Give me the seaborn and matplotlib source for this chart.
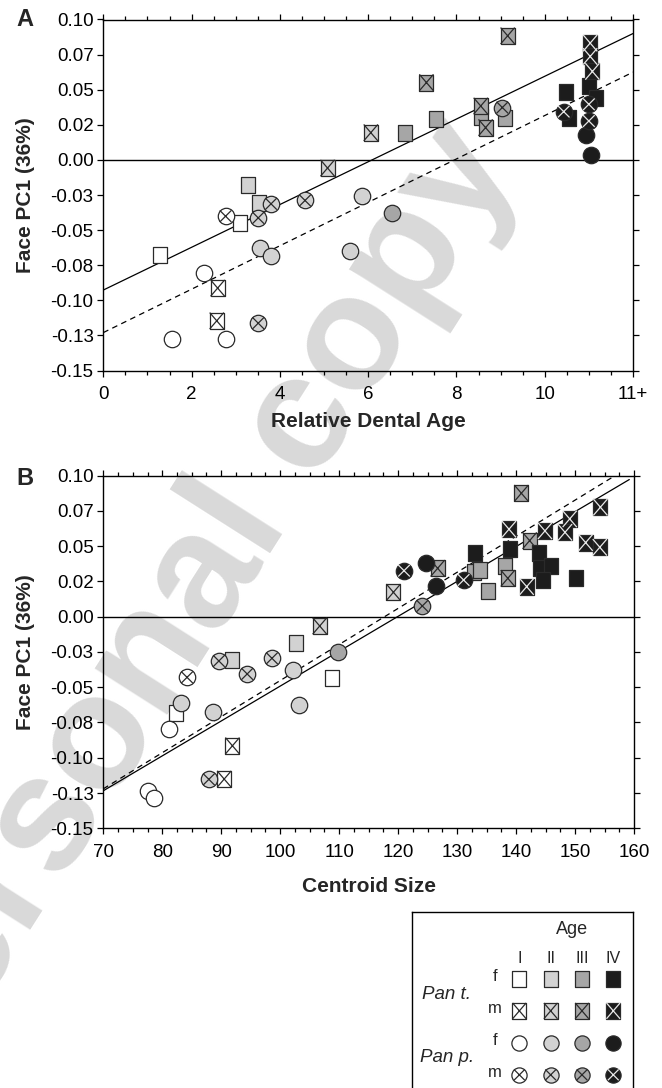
import matplotlib
matplotlib.use("Agg")
import matplotlib.pyplot as plt
from matplotlib.path import Path
from matplotlib.ticker import MultipleLocator
import pandas as pd
import seaborn as sns

# ---------------- data ----------------
# Panel A: Relative Dental Age vs Face PC1
a_species = ["Pan t."] * 23 + ["Pan p."] * 19
a_sex = ["f", "f", "m", "m", "f", "f", "m", "m", "f", "f", "f", "f", "m", "m", "m", "m",
         "f", "f", "f", "f", "m", "m", "m",
         "f", "f", "f", "m", "f", "f", "f", "f", "m", "m", "m", "m", "f", "m", "f", "f",
         "m", "m", "m"]
a_age = ["I", "I", "I", "I", "II", "II", "II", "II", "III", "III", "III", "III", "III", "III",
         "III", "III", "IV", "IV", "IV", "IV", "IV", "IV", "IV",
         "I", "I", "I", "I", "II", "II", "II", "II", "II", "II", "II", "II", "III", "III",
         "IV", "IV", "IV", "IV", "IV"]
a_dental_age = [1.28, 3.10, 2.59, 2.57, 3.27, 3.53, 5.08, 6.06, 6.83, 7.54, 8.55, 9.11,
                7.32, 8.55, 8.66, 9.16, 10.49, 10.56, 11.00, 11.17, 11.03, 11.03, 11.08,
                2.27, 1.55, 2.79, 2.77, 3.56, 3.81, 5.87, 5.59, 3.80, 4.57, 3.51, 3.51,
                6.53, 9.04, 10.93, 11.04, 10.43, 11.00, 11.00]
a_pc1 = [-0.0677, -0.0449, -0.0913, -0.1146, -0.0182, -0.0309, -0.0058, 0.0194, 0.0194,
         0.0289, 0.0306, 0.0299, 0.0551, 0.0384, 0.0230, 0.0884, 0.0482, 0.0296, 0.0523,
         0.0439, 0.0832, 0.0737, 0.0630,
         -0.0808, -0.1277, -0.1273, -0.0401, -0.0627, -0.0682, -0.0254, -0.0646, -0.0313,
         -0.0289, -0.0413, -0.1163, -0.0378, 0.0373, 0.0177, 0.0034, 0.0344, 0.0396, 0.0277]

# Panel B: Centroid Size vs Face PC1
b_species = ["Pan t."] * 31 + ["Pan p."] * 18
b_sex = ["f", "f", "m", "m", "f", "f", "m", "m", "f", "f", "f", "f", "m", "m", "m", "m",
         "f", "f", "f", "f", "f", "f", "f", "m", "m", "m", "m", "m", "m", "m", "m",
         "f", "f", "f", "m", "f", "f", "f", "f", "m", "m", "m", "m", "f", "m", "f", "f",
         "m", "m"]
b_age = ["I", "I", "I", "I", "II", "II", "II", "II", "III", "III", "III", "III", "III", "III",
         "III", "III", "IV", "IV", "IV", "IV", "IV", "IV", "IV", "IV", "IV", "IV", "IV", "IV",
         "IV", "IV", "IV",
         "I", "I", "I", "I", "II", "II", "II", "II", "II", "II", "II", "II", "III", "III",
         "IV", "IV", "IV", "IV"]
b_centroid = [82.3, 108.8, 91.9, 90.5, 102.6, 91.8, 106.7, 119.2, 132.9, 133.8, 135.2, 138.1,
              140.9, 142.3, 126.7, 138.6, 133.0, 138.9, 143.9, 144.0, 145.9, 144.6, 150.1,
              154.3, 149.1, 148.3, 144.9, 138.8, 151.8, 154.2, 141.8,
              81.1, 77.6, 78.6, 84.2, 102.1, 103.2, 83.2, 88.6, 89.6, 98.6, 94.4, 87.9,
              109.8, 124.1, 124.8, 126.4, 121.0, 131.1]
b_pc1 = [-0.0681, -0.0437, -0.0915, -0.1151, -0.0189, -0.0307, -0.0066, 0.0173, 0.0319,
         0.0331, 0.0184, 0.0360, 0.0875, 0.0539, 0.0343, 0.0272, 0.0450, 0.0480, 0.0450,
         0.0343, 0.0362, 0.0260, 0.0272, 0.0776, 0.0693, 0.0598, 0.0608, 0.0620, 0.0525,
         0.0492, 0.0213,
         -0.0796, -0.1234, -0.1288, -0.0430, -0.0378, -0.0626, -0.0614, -0.0678, -0.0314,
         -0.0295, -0.0406, -0.1153, -0.0250, 0.0076, 0.0379, 0.0218, 0.0326, 0.0260]

# regression lines (end points): solid = Pan t., dashed = Pan p.
a_line_t_x, a_line_t_y = [0, 12], [-0.0927, 0.0900]
a_line_p_x, a_line_p_y = [0, 12], [-0.1230, 0.0625]
b_line_t_x, b_line_t_y = [70, 159.2], [-0.1234, 0.0972]
b_line_p_x, b_line_p_y = [70, 156.8], [-0.1220, 0.1000]

ages = ["I", "II", "III", "IV"]
legend_rows = [("Pan t.", "f"), ("Pan t.", "m"), ("Pan p.", "f"), ("Pan p.", "m")]

y_ticks = [0.10, 0.075, 0.05, 0.025, 0.0, -0.025, -0.05, -0.075, -0.10, -0.125, -0.15]
y_ticklabels = ["0.10", "0.07", "0.05", "0.02", "0.00", "-0.03", "-0.05", "-0.08",
                "-0.10", "-0.13", "-0.15"]
a_xticks = [0, 2, 4, 6, 8, 10, 12]
a_xticklabels = ["0", "2", "4", "6", "8", "10", "11+"]
b_xticks = [70, 80, 90, 100, 110, 120, 130, 140, 150, 160]

# ---------------- style ----------------
sns.set_theme(style="ticks")
plt.rcParams["font.family"] = ["Liberation Sans", "DejaVu Sans"]
plt.rcParams["axes.edgecolor"] = "black"

fills = {"I": "#ffffff", "II": "#d2d2d2", "III": "#a6a6a6", "IV": "#1c1c1c"}
xcols = {"I": "#2a2a2a", "II": "#2a2a2a", "III": "#2a2a2a", "IV": "#e8e8e8"}
edge = "#2a2a2a"

hw = 0.43
rect = Path([(-hw, -0.5), (hw, -0.5), (hw, 0.5), (-hw, 0.5), (-hw, -0.5)],
            [Path.MOVETO, Path.LINETO, Path.LINETO, Path.LINETO, Path.CLOSEPOLY])
rect_x = Path([(-hw, -0.5), (hw, 0.5), (-hw, 0.5), (hw, -0.5)],
              [Path.MOVETO, Path.LINETO, Path.MOVETO, Path.LINETO])
circ_x = Path([(-0.5, -0.5), (0.5, 0.5), (-0.5, 0.5), (0.5, -0.5)],
              [Path.MOVETO, Path.LINETO, Path.MOVETO, Path.LINETO])

W, H = 662, 1088
fig = plt.figure(figsize=(W / 100, H / 100), dpi=100)
fig.patch.set_facecolor("white")

# watermark
fig.text(182 / W, 1 - 612 / H, "Personal copy", rotation=57.5, ha="center", va="center",
         rotation_mode="anchor", fontsize=118, fontweight="bold", color="#d9d9d9", zorder=-5)


def add_axes_px(left, top, right, bottom):
    return fig.add_axes([left / W, 1 - bottom / H, (right - left) / W, (bottom - top) / H])


def draw_points(ax, df, s_sq, s_ci):
    for sp in ["Pan t.", "Pan p."]:
        for age in ages:
            for sx in ["f", "m"]:
                d = df[(df.species == sp) & (df.age == age) & (df.sex == sx)]
                if d.empty:
                    continue
                mk = rect if sp == "Pan t." else "o"
                s = s_sq if sp == "Pan t." else s_ci
                sns.scatterplot(data=d, x="x", y="y", marker=mk, s=s, color=fills[age],
                                edgecolor=edge, linewidth=0.9, ax=ax, legend=False, zorder=3)
                if sx == "m":
                    xm = rect_x if sp == "Pan t." else circ_x
                    xs = s if sp == "Pan t." else s * 0.5
                    sns.scatterplot(data=d, x="x", y="y", marker=xm, s=xs, facecolor="none",
                                    edgecolor=xcols[age], linewidth=0.9, ax=ax, legend=False,
                                    zorder=3)


def style_axes(ax):
    ax.set_facecolor("none")
    for sp in ax.spines.values():
        sp.set_visible(True)
        sp.set_linewidth(1.0)
        sp.set_color("black")
    ax.tick_params(which="both", direction="out", top=True, right=True, bottom=True,
                   left=True, labeltop=False, labelright=False, color="black", width=0.9,
                   labelsize=13.5, labelcolor="black")
    ax.tick_params(axis="y", pad=2.5)
    ax.tick_params(axis="x", pad=7)
    ax.tick_params(which="major", length=4.5)
    ax.tick_params(which="minor", length=2.8)
    ax.set_yticks(y_ticks)
    ax.set_yticklabels(y_ticklabels)
    ax.set_ylim(-0.15, 0.10)
    ax.axhline(0, color="black", lw=1.0, zorder=2)
    ax.grid(False)


dash = (0, (4.5, 3.5))

# ---------------- Panel A ----------------
df_a = pd.DataFrame({"species": a_species, "sex": a_sex, "age": a_age,
                     "x": a_dental_age, "y": a_pc1})
axA = add_axes_px(103.3, 19.5, 633, 370.5)
style_axes(axA)
sns.lineplot(x=a_line_t_x, y=a_line_t_y, color="black", lw=0.9, ax=axA, zorder=2)
sns.lineplot(x=a_line_p_x, y=a_line_p_y, color="black", lw=0.9, linestyle=dash, ax=axA,
             zorder=2)
draw_points(axA, df_a, 140, 140)
axA.set_xlim(0, 12)
axA.set_xticks(a_xticks)
axA.set_xticklabels(a_xticklabels)
axA.xaxis.set_minor_locator(MultipleLocator(0.5))
axA.set_xlabel("Relative Dental Age", fontsize=15, fontweight="bold", va="center")
axA.set_ylabel("Face PC1 (36%)", fontsize=15, fontweight="bold", va="center")
axA.xaxis.set_label_coords(0.5, -0.144)
axA.yaxis.set_label_coords(-0.146, 0.5)

# ---------------- Panel B ----------------
df_b = pd.DataFrame({"species": b_species, "sex": b_sex, "age": b_age,
                     "x": b_centroid, "y": b_pc1})
axB = add_axes_px(103.3, 475.6, 634, 828.3)
style_axes(axB)
sns.lineplot(x=b_line_t_x, y=b_line_t_y, color="black", lw=0.9, ax=axB, zorder=2)
sns.lineplot(x=b_line_p_x, y=b_line_p_y, color="black", lw=0.9, linestyle=dash, ax=axB,
             zorder=2)
draw_points(axB, df_b, 140, 140)
axB.set_xlim(70, 160)
axB.set_xticks(b_xticks)
axB.set_xticklabels([str(v) for v in b_xticks])
axB.xaxis.set_minor_locator(MultipleLocator(2.5))
axB.set_xlabel("Centroid Size", fontsize=15, fontweight="bold", va="center")
axB.set_ylabel("Face PC1 (36%)", fontsize=15, fontweight="bold", va="center")
axB.xaxis.set_label_coords(0.5, -0.166)
axB.yaxis.set_label_coords(-0.146, 0.5)

fig.text(25 / W, 1 - 19 / H, "A", fontsize=17, fontweight="bold", ha="center", va="center")
fig.text(25 / W, 1 - 479 / H, "B", fontsize=17, fontweight="bold", ha="center", va="center")

# ---------------- Legend ----------------
axL = add_axes_px(412, 912, 633, 1095)
axL.set_facecolor("white")
for sp in axL.spines.values():
    sp.set_visible(True)
    sp.set_color("black")
    sp.set_linewidth(1.0)
axL.set_xticks([])
axL.set_yticks([])
leg_rows = []
for j, (sp, sx) in enumerate(legend_rows):
    for i, age in enumerate(ages):
        leg_rows.append({"species": sp, "sex": sx, "age": age, "x": i, "y": j})
df_l = pd.DataFrame(leg_rows)
draw_points(axL, df_l, 130, 120)
axL.set_xlim(-3.43, 3.63)
axL.set_ylim(3.63, -2.09)
axL.set_xlabel("")
axL.set_ylabel("")
axL.text(1.67, -1.53, "Age", fontsize=13, ha="center", va="center")
for i, age in enumerate(ages):
    axL.text(i, -0.63, age, fontsize=11.5, ha="center", va="center")
for j, (sp, sx) in enumerate(legend_rows):
    axL.text(-0.78, j - 0.08, sx, fontsize=12, ha="center", va="center")
axL.text(-2.32, 0.5, "Pan t.", fontsize=13.5, style="italic", ha="center", va="center")
axL.text(-2.32, 2.47, "Pan p.", fontsize=13.5, style="italic", ha="center", va="center")

fig.savefig("out.png", dpi=100)
